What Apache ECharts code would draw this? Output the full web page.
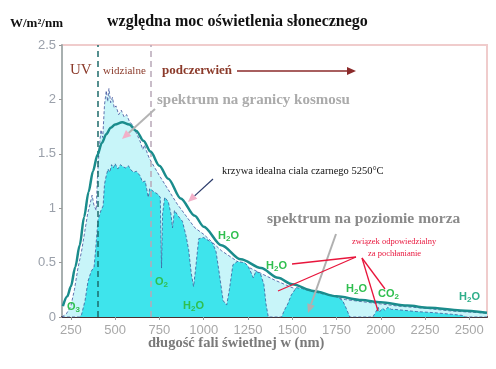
<!DOCTYPE html>
<html><head><meta charset="utf-8">
<script src="https://cdn.jsdelivr.net/npm/echarts@6/dist/echarts.min.js"></script>
<style>html,body{margin:0;padding:0;background:#fff}#c{width:496px;height:369px}</style>
</head><body><div id="c"></div>
<script>
// wavelength (nm), value (W/m²/nm)
const blackbodyWl = [205,230,250,275,300,325,350,375,400,425,450,475,500,540,580,620,660,700,750,800,870,950,1000,1100,1210,1324,1420,1500,1620,1750,1892,2000,2150,2273,2450,2600];
const blackbodyVal = [0.10,0.19,0.28,0.46,0.66,0.92,1.15,1.34,1.49,1.60,1.68,1.74,1.77,1.79,1.77,1.71,1.62,1.52,1.39,1.27,1.09,0.93,0.83,0.66,0.53,0.45,0.36,0.30,0.24,0.19,0.156,0.135,0.105,0.085,0.06,0.04];

const spaceWl = [200,225,250,270,290,310,330,345,360,370,380,393,400,410,420,430,440,450,458,465,475,485,495,505,520,535,550,565,580,600,620,640,656,665,690,710,750,800,850,900,950,1000,1100,1200,1300,1400,1500,1600,1700,1800,1900,2000,2100,2250,2400,2500,2600];
const spaceVal = [0.0,0.03,0.10,0.25,0.45,0.60,0.80,0.95,1.05,1.12,1.03,0.98,1.28,1.55,1.72,1.65,1.95,2.08,1.98,2.10,1.97,2.02,1.92,1.94,1.86,1.90,1.84,1.86,1.80,1.76,1.69,1.62,1.54,1.58,1.47,1.41,1.30,1.17,1.04,0.93,0.82,0.76,0.61,0.50,0.42,0.34,0.27,0.22,0.19,0.16,0.14,0.12,0.10,0.08,0.055,0.045,0.035];

const seaWl = [200,300,310,330,347,365,381,390,403,420,432,440,450,460,470,480,490,500,515,530,545,560,575,590,605,620,640,655,670,687,695,720,740,755,762,768,780,800,815,824,835,860,880,900,915,930,943,955,972,1000,1030,1050,1070,1090,1110,1130,1145,1165,1190,1230,1250,1270,1280,1295,1320,1340,1352,1365,1440,1455,1475,1494,1523,1560,1600,1625,1680,1722,1760,1785,1805,1825,1955,1970,1985,1995,2010,2025,2040,2060,2080,2200,2300,2400,2460,2480,2600];
const seaVal = [0,0,0.02,0.15,0.33,0.42,0.46,0.62,0.89,0.98,1.02,1.22,1.30,1.36,1.33,1.40,1.37,1.41,1.36,1.40,1.38,1.37,1.39,1.35,1.33,1.34,1.30,1.24,1.25,1.10,1.18,1.15,1.13,1.10,0.45,0.95,1.10,1.06,0.95,0.82,0.98,0.92,0.88,0.75,0.62,0.40,0.28,0.45,0.72,0.73,0.70,0.68,0.60,0.38,0.15,0.11,0.25,0.48,0.51,0.50,0.47,0.40,0.36,0.42,0.40,0.30,0.12,0,0,0.06,0.12,0.20,0.27,0.26,0.24,0.23,0.21,0.20,0.18,0.15,0.08,0,0,0.04,0.09,0.05,0.08,0.06,0.09,0.07,0.07,0.05,0.04,0.025,0.015,0,0];

const xTicks = [250,500,750,1000,1250,1500,1750,2000,2250,2500];
const visibleBounds = [400, 700];

const zip = (a,b) => a.map((v,i)=>[v,b[i]]);
const chart = echarts.init(document.getElementById('c'), null, {renderer:'canvas'});

const serif = '"Liberation Serif", "DejaVu Serif", serif';
const sans = '"Liberation Sans", Arial, sans-serif';
const green = '#2fbf4f';
function chem(parts, x, y, color) {
  let s = '';
  parts.forEach((p,i)=>{ if(!p) return; s += (i%2===1? '{s|'+p+'}' : '{m|'+p+'}'); });
  return {type:'text', left:x, top:y, z:50, style:{text:s, rich:{
    m:{fontFamily:sans, fontWeight:'bold', fontSize:11, fill:color||green},
    s:{fontFamily:sans, fontWeight:'bold', fontSize:8, fill:color||green, padding:[6,0,0,0]}
  }}};
}
function arrow(x1,y1,x2,y2,color,headColor,w){
  const ang = Math.atan2(y2-y1,x2-x1), L=9, W=4;
  const bx = x2 - L*Math.cos(ang), by = y2 - L*Math.sin(ang);
  const px = -Math.sin(ang)*W, py = Math.cos(ang)*W;
  return [
    {type:'line', z:40, shape:{x1,y1,x2:bx,y2:by}, style:{stroke:color, lineWidth:w||1.5}},
    {type:'polygon', z:41, shape:{points:[[x2,y2],[bx+px,by+py],[bx-px,by-py]]}, style:{fill:headColor||color}}
  ];
}
const red = '#e8163c';
const graphics = [
  {type:'text', left:10, top:17, style:{text:'W/m²/nm', font:'bold 13px '+serif, fill:'#111'}},
  {type:'text', left:107, top:14, style:{text:'względna moc oświetlenia słonecznego', font:'bold 16px '+serif, fill:'#111'}},
  {type:'text', left:70, top:63, z:50, style:{text:'UV', font:'15px '+serif, fill:'#8b3a2a'}},
  {type:'text', left:103, top:66, z:50, style:{text:'widzialne', font:'11px '+serif, fill:'#8b3a2a'}},
  {type:'text', left:162, top:64, z:50, style:{text:'podczerwień', font:'bold 13px '+serif, fill:'#8b3a2a'}},
  ...arrow(237,71,356,71,'#8b2a2a','#8b2a2a',1.3),
  {type:'text', left:157, top:93, z:50, style:{text:'spektrum na granicy kosmosu', font:'bold 15px '+serif, fill:'#ababab'}},
  ...arrow(155,109,122,139,'#b4b4b4','#f2b0c8',2),
  {type:'text', left:222, top:166, z:50, style:{text:'krzywa idealna ciala czarnego 5250°C', font:'10.5px '+serif, fill:'#111'}},
  ...arrow(213,179,188,202,'#2a3a6a','#f2b0c8',1.2),
  {type:'text', left:267, top:211, z:50, style:{text:'spektrum na poziomie morza', font:'bold 15.5px '+serif, fill:'#8a8a8a'}},
  ...arrow(336,234,308,313,'#b0b0b0','#b0b0b0',2),
  {type:'text', left:352, top:237, z:50, style:{text:'związek odpowiedzialny', font:'8.5px '+serif, fill:red}},
  {type:'text', left:368, top:249, z:50, style:{text:'za pochłanianie', font:'8.5px '+serif, fill:red}},
  {type:'line', z:40, shape:{x1:356,y1:257,x2:292,y2:264}, style:{stroke:red, lineWidth:1.3}},
  {type:'line', z:40, shape:{x1:356,y1:257,x2:278,y2:291}, style:{stroke:red, lineWidth:1.3}},
  {type:'line', z:40, shape:{x1:362,y1:258,x2:378,y2:311}, style:{stroke:red, lineWidth:1.3}},
  {type:'line', z:40, shape:{x1:362,y1:258,x2:385,y2:289}, style:{stroke:red, lineWidth:1.3}},
  chem(['O','3'], 67, 301),
  chem(['O','2'], 155, 276),
  chem(['H','2','O'], 183, 300),
  chem(['H','2','O'], 218, 230),
  chem(['H','2','O'], 266, 260),
  chem(['H','2','O'], 346, 283),
  chem(['CO','2'], 378, 288),
  chem(['H','2','O'], 459, 291, '#2fae8a'),
  {type:'text', left:148, top:336, style:{text:'długość fali świetlnej w (nm)', font:'bold 14.5px '+serif, fill:'#7a7a7a'}}
];

chart.setOption({
  animation:false,
  backgroundColor:'#fff',
  grid:{left:62, right:9, top:45, bottom:52, show:true, borderColor:'#f0cccc', borderWidth:2, backgroundColor:'#fff'},
  xAxis:{type:'value', min:200, max:2600,
    axisLine:{show:true, onZero:false, lineStyle:{color:'#4a3030', width:2}},
    axisTick:{show:true, customValues:xTicks, length:3, lineStyle:{color:'#999'}},
    axisLabel:{customValues:xTicks, formatter:(v)=>String(v), color:'#a8a8a8', fontSize:13, fontFamily:sans, margin:7},
    splitLine:{show:false}},
  yAxis:{type:'value', min:0, max:2.5, interval:0.5,
    axisLine:{show:true, lineStyle:{color:'#a8b0b0', width:2}},
    axisTick:{show:true, length:3, lineStyle:{color:'#999'}},
    axisLabel:{color:'#9aa0aa', fontSize:13, fontFamily:sans, margin:6},
    splitLine:{show:false}},
  series:[
    {type:'line', name:'kosmos', data:zip(spaceWl,spaceVal), symbol:'none', z:2,
      lineStyle:{color:'#3d4f9a', width:0.8, type:[3,2]},
      areaStyle:{color:'#c8f5f9', opacity:1},
      markLine:{silent:true, symbol:'none', label:{show:false},
        data:[{xAxis:visibleBounds[0], lineStyle:{color:'#1d6b6b', type:[6,4], width:1.5}},
              {xAxis:visibleBounds[1], lineStyle:{color:'#b8a8b8', type:[6,4], width:1.5}}]}},
    {type:'line', name:'morze', data:zip(seaWl,seaVal), symbol:'none', z:3,
      lineStyle:{color:'#3a5a9a', width:0.8, type:[3,2]},
      areaStyle:{color:'#3ee4ec', opacity:1}},
    {type:'line', name:'cialo czarne', data:zip(blackbodyWl,blackbodyVal), symbol:'none', smooth:0.3, smoothMonotone:'x', z:5,
      lineStyle:{color:'#1a8c8c', width:2.5}}
  ],
  graphic:graphics
});
</script></body></html>
